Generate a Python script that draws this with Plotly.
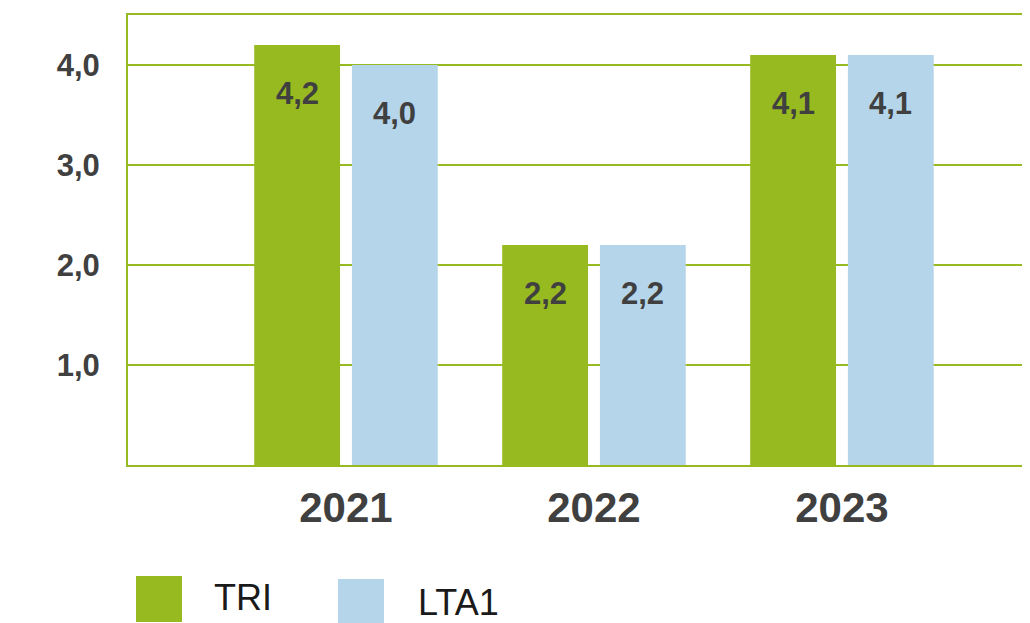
import plotly.graph_objects as go

# Values per year for the two series
years = ["2021", "2022", "2023"]
tri = [4.2, 2.2, 4.1]
lta1 = [4.0, 2.2, 4.1]
y_ticks = [1.0, 2.0, 3.0, 4.0]
y_ticktext = ["1,0", "2,0", "3,0", "4,0"]

GREEN = "#96BA1F"
BLUE = "#B4D5EA"
DARK = "#404040"
FONT = "Liberation Sans, Arial, sans-serif"

W, H = 1030, 623
L, R, T, B = 128, 8, 15, 158

BAR_W = 0.346
OFF_TRI = -0.370
OFF_LTA = 0.024

xs = list(range(len(years)))


def fmt(v):
    return f"{v:.1f}".replace(".", ",")


fig = go.Figure()
fig.add_trace(go.Bar(x=xs, y=tri, name="TRI", marker=dict(color=GREEN, line=dict(width=0)),
                     width=BAR_W, offset=OFF_TRI, showlegend=False))
fig.add_trace(go.Bar(x=xs, y=lta1, name="LTA1", marker=dict(color=BLUE, line=dict(width=0)),
                     width=BAR_W, offset=OFF_LTA, showlegend=False))

annotations = []
for series, off in ((tri, OFF_TRI), (lta1, OFF_LTA)):
    for xi, v in zip(xs, series):
        annotations.append(dict(
            x=xi + off + BAR_W / 2, y=v, xref="x", yref="y",
            text=fmt(v), showarrow=False, yanchor="middle", yshift=-48,
            font=dict(family=FONT, size=31, color=DARK, weight="bold"),
        ))

# Legend drawn as large swatches with labels under the chart
plot_w = W - L - R
plot_h = H - T - B


def px_x(p):
    return (p - L) / plot_w


def px_y(p):
    return (H - B - p) / plot_h


shapes = [
    dict(type="rect", xref="paper", yref="paper", x0=px_x(136), x1=px_x(182),
         y0=px_y(622), y1=px_y(576), fillcolor=GREEN, line=dict(width=0)),
    dict(type="rect", xref="paper", yref="paper", x0=px_x(338), x1=px_x(384),
         y0=px_y(625), y1=px_y(579), fillcolor=BLUE, line=dict(width=0)),
]
annotations += [
    dict(x=px_x(212), y=px_y(597), xref="paper", yref="paper", text="TRI",
         showarrow=False, xanchor="left", yanchor="middle",
         font=dict(family=FONT, size=36, color="#1a1a1a")),
    dict(x=px_x(416), y=px_y(602), xref="paper", yref="paper", text="LTA1",
         showarrow=False, xanchor="left", yanchor="middle",
         font=dict(family=FONT, size=36, color="#1a1a1a")),
]

fig.update_layout(
    width=W, height=H,
    margin=dict(l=L, r=R, t=T, b=B),
    paper_bgcolor="white", plot_bgcolor="white",
    barmode="overlay",
    shapes=shapes, annotations=annotations,
    xaxis=dict(
        range=[-0.879, 2.726], tickvals=xs, ticktext=years,
        showgrid=False, zeroline=False, showline=True, mirror=True,
        linecolor=GREEN, linewidth=2,
        ticks="", ticklabelstandoff=5,
        tickfont=dict(family=FONT, size=42, color=DARK, weight="bold"),
    ),
    yaxis=dict(
        range=[0, 4.5], tickvals=y_ticks, ticktext=y_ticktext,
        showgrid=True, gridcolor=GREEN, gridwidth=1.5, zeroline=False,
        showline=True, linecolor=GREEN, linewidth=2,
        ticks="", ticklabelstandoff=20,
        tickfont=dict(family=FONT, size=31, color=DARK, weight="bold"),
    ),
)

fig.write_html("out.html")
